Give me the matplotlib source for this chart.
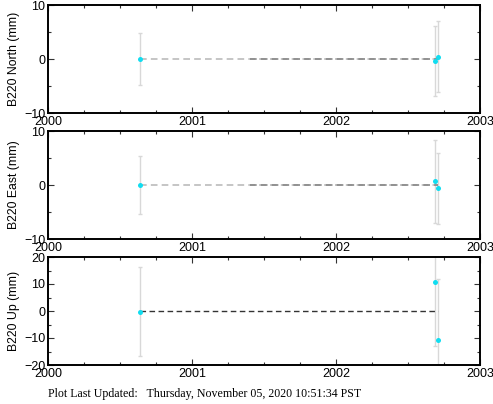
import matplotlib
matplotlib.use("Agg")
import matplotlib.pyplot as plt
from matplotlib.ticker import MultipleLocator

# decimal-year epochs of the three solutions
years = [2000.637, 2002.685, 2002.710]

north = [0.0, -0.4, 0.45]
north_err = [4.9, 6.5, 6.5]
east = [0.0, 0.7, -0.6]
east_err = [5.3, 7.7, 6.6]
up = [-0.3, 10.8, -10.8]
up_err = [16.5, 23.6, 22.5]

labels = ["B220 North (mm)", "B220 East (mm)", "B220 Up (mm)"]
ylims = [(-10, 10), (-10, 10), (-20, 20)]
footer = "Plot Last Updated:   Thursday, November 05, 2020 10:51:34 PST"

W, H = 493, 404
fig = plt.figure(figsize=(W / 100, H / 100), dpi=100)
plt.rcParams["font.family"] = ["Liberation Sans", "DejaVu Sans"]

tops = [5, 131, 257]
series = [(north, north_err), (east, east_err), (up, up_err)]

for i, (vals, errs) in enumerate(series):
    top = tops[i]
    ax = fig.add_axes([48 / W, 1 - (top + 108) / H, 432 / W, 108 / H])
    ax.errorbar(years, vals, yerr=errs, fmt="none", ecolor="#d8d8d8",
                elinewidth=1, capsize=1.5, capthick=1, zorder=1)
    if i < 2:
        ax.plot([years[0], years[2]], [0, 0], ls=(0, (4, 2.5)), color="#bbbbbb",
                lw=1.2, zorder=2)
        ax.plot([2001.4, years[2]], [0, 0], ls=(0, (4, 2.5)), color="#888888",
                lw=1.2, zorder=2)
    else:
        ax.plot([years[0], years[2]], [0, 0], ls=(0, (4, 2.5)), color="#333333",
                lw=1.0, zorder=2)
    ax.plot(years, vals, "o", color="#11ddf0", ms=3.6, mec="none", zorder=3)

    ax.set_xlim(2000, 2003)
    ax.set_ylim(*ylims[i])
    ax.xaxis.set_major_locator(MultipleLocator(1))
    ax.xaxis.set_minor_locator(MultipleLocator(0.25))
    ax.yaxis.set_major_locator(MultipleLocator(10))
    ax.yaxis.set_minor_locator(MultipleLocator(5))
    ax.xaxis.set_major_formatter(plt.FuncFormatter(lambda v, p: "%d" % v))
    ax.tick_params(which="both", direction="in", top=True, right=True,
                   labelsize=9, pad=2, color="#333333")
    ax.tick_params(which="major", length=4, width=0.8)
    ax.tick_params(which="minor", length=2.5, width=0.8)
    for s in ax.spines.values():
        s.set_linewidth(1.4)
    ax.set_ylabel(labels[i], fontsize=8.8, labelpad=3)

fig.text(48 / W, 1 - 394 / H, footer, family="Liberation Serif", fontsize=8.6,
         va="center", ha="left")

fig.savefig("out.png", dpi=100)
